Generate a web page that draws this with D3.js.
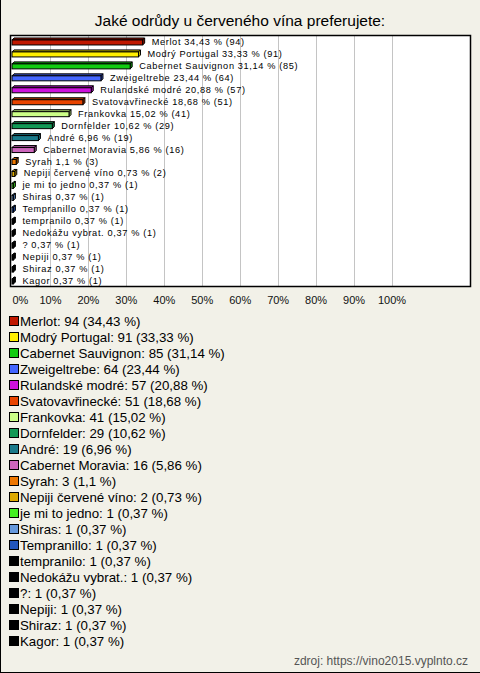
<!DOCTYPE html>
<html><head><meta charset="utf-8">
<script src="https://cdn.jsdelivr.net/npm/d3@7"></script>
<style>html,body{margin:0;padding:0;background:#f2f1e8;}svg{display:block;font-family:Arial,"Liberation Sans",sans-serif;}</style>
</head><body>
<script>
const title = "Jaké odrůdy u červeného vína preferujete:";
const categories = ["Merlot","Modrý Portugal","Cabernet Sauvignon","Zweigeltrebe","Rulandské modré","Svatovavřinecké","Frankovka","Dornfelder","André","Cabernet Moravia","Syrah","Nepiji červené víno","je mi to jedno","Shiras","Tempranillo","tempranilo","Nedokážu vybrat.","?","Nepiji","Shiraz","Kagor"];
const counts = [94,91,85,64,57,51,41,29,19,16,3,2,1,1,1,1,1,1,1,1,1];
const percents = [34.43,33.33,31.14,23.44,20.88,18.68,15.02,10.62,6.96,5.86,1.1,0.73,0.37,0.37,0.37,0.37,0.37,0.37,0.37,0.37,0.37];
const colors = ["#c01800","#ffee00","#11cc11","#4466ff","#cc11dd","#e84400","#ccff88","#119955","#1a7a8a","#cc66bb","#ee7700","#ddaa00","#44ee22","#6699dd","#2255bb","#000000","#000000","#000000","#000000","#000000","#000000"];
const ticks = [0,10,20,30,40,50,60,70,80,90,100];
const source = "zdroj: https://vino2015.vyplnto.cz";

const W = 480, H = 673;
const fmt = v => String(v).replace(".", ",");
const svg = d3.select("body").append("svg").attr("width", W).attr("height", H);
svg.append("rect").attr("width", W).attr("height", H).attr("fill", "#f2f1e8");
svg.append("line").attr("x1",0.5).attr("x2",0.5).attr("y1",0).attr("y2",H).attr("stroke","#000");
svg.append("line").attr("x1",0).attr("x2",W).attr("y1",H-0.5).attr("y2",H-0.5).attr("stroke","#000");

svg.append("text").attr("x", 240).attr("y", 25.5).attr("text-anchor","middle")
  .attr("font-size", 15.5).attr("fill","#000").text(title);

const plot = {l:10.5, t:35.5, r:470.5, b:286.5};
const x = d3.scaleLinear().domain([0,100]).range([12, 391.5]);
const y = d3.scaleBand().domain(categories).range([plot.t, plot.b]);

svg.append("rect").attr("x",plot.l).attr("y",plot.t).attr("width",plot.r-plot.l).attr("height",plot.b-plot.t)
  .attr("fill","#fff");

// gridlines
svg.append("g").selectAll("line").data(ticks.filter(t=>t>0)).join("line")
  .attr("x1", d=>Math.round(x(d))+0.5).attr("x2", d=>Math.round(x(d))+0.5)
  .attr("y1", plot.t).attr("y2", plot.b).attr("stroke","#c4c4c4").attr("stroke-width",1);

// bars
const d = 2;
const bars = svg.append("g");
categories.forEach((c,i) => {
  const yc = y(c) + y.bandwidth()/2 + 0.5;
  const x0 = x(0), x1 = x(percents[i]);
  const yT = yc - 2, yB = yc + 3;
  const col = colors[i];
  const dark = d3.color(col).darker(0.8).formatHex();
  const g = bars.append("g").attr("stroke","#000").attr("stroke-width",1).attr("stroke-linejoin","miter");
  g.append("polygon").attr("points", [[x0,yT],[x0+d,yT-d],[x1+d,yT-d],[x1,yT]].join(" ")).attr("fill", dark);
  g.append("polygon").attr("points", [[x1,yT],[x1+d,yT-d],[x1+d,yB-d],[x1,yB]].join(" ")).attr("fill", dark);
  g.append("rect").attr("x",x0).attr("y",yT).attr("width",Math.max(0,x1-x0)).attr("height",yB-yT).attr("fill",col);
  svg.append("text").attr("x", x1 + d + 7).attr("y", yc + 3).attr("font-size", 9.2).attr("letter-spacing", 0.65)
    .attr("fill","#000").text(`${c} ${fmt(percents[i])} % (${counts[i]})`);
});

svg.append("rect").attr("x",plot.l).attr("y",plot.t).attr("width",plot.r-plot.l).attr("height",plot.b-plot.t)
  .attr("fill","none").attr("stroke","#000").attr("stroke-width",1.5);

// axis
const axis = svg.append("g").attr("transform", `translate(0,${plot.b})`)
  .call(d3.axisBottom(x).tickValues(ticks).tickFormat(t=>t+"%").tickSize(0).tickPadding(10));
axis.select(".domain").remove();
axis.selectAll("text").attr("font-size", 11).attr("fill","#111").attr("font-family","Arial, 'Liberation Sans', sans-serif");
axis.selectAll(".tick").filter(t=>t===0).select("text").attr("text-anchor","start");

// legend
const leg = svg.append("g");
categories.forEach((c,i) => {
  const yc = 321 + 16*i;
  leg.append("rect").attr("x",9.5).attr("y",yc-4.5).attr("width",9).attr("height",9)
    .attr("fill",colors[i]).attr("stroke","#000").attr("stroke-width",1);
  leg.append("text").attr("x",20).attr("y",yc+5).attr("font-size",13.3).attr("fill","#000")
    .text(`${c}: ${counts[i]} (${fmt(percents[i])} %)`);
});

svg.append("text").attr("x", 468).attr("y", 665).attr("text-anchor","end")
  .attr("font-size", 12).attr("fill","#555").text(source);
</script>
</body></html>
